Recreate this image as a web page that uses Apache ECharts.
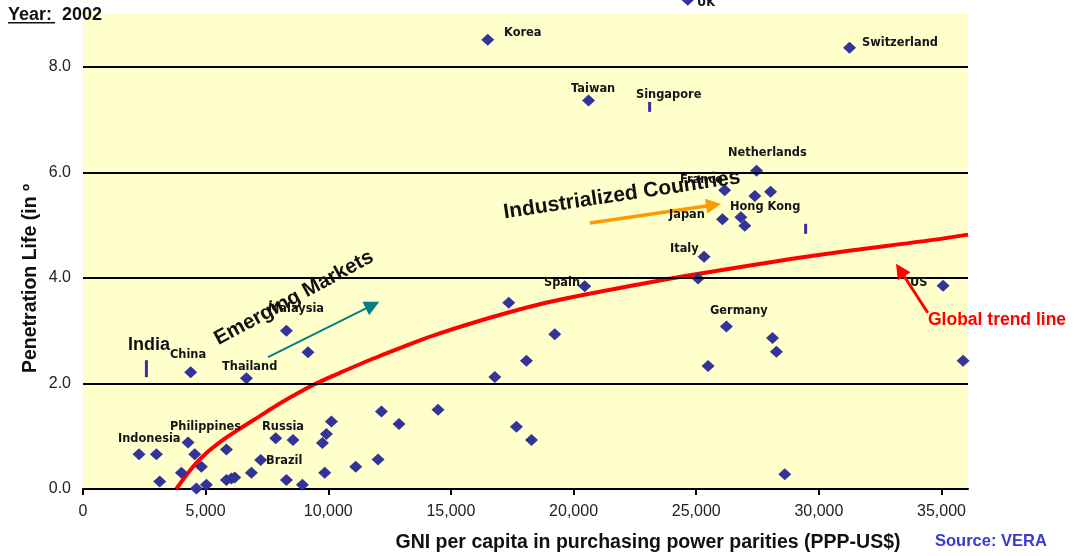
<!DOCTYPE html>
<html><head><meta charset="utf-8">
<script src="https://cdn.jsdelivr.net/npm/echarts@6/dist/echarts.min.js"></script>
<style>html,body{margin:0;padding:0;background:#fff}#c{width:1077px;height:556px}</style>
</head><body><div id="c"></div>
<script>
// ---- data ----
const countryNames = ['UK','Korea','Switzerland','Taiwan','Netherlands','France','','','Japan','','','Italy','','US','Germany','','','','','Spain','','','','','China','Thailand','Malaysia','','','','Indonesia','','','','','','','Philippines','','','','','Brazil','','Russia','','','','','','','','','','','','','',''];
const gniValues = [24655,16500,31250,20610,27460,26160,27390,28030,26070,26820,26980,25320,25075,35065,26230,28110,28270,25485,35880,20455,17357,19233,18078,16790,4391,6662,8293,9174,2284,2992,4283,4555,4827,4012,3127,4623,5031,5847,5847,6051,6186,6866,7245,7857,8562,8293,8945,9761,9924,10128,9855,11119,12029,12167,12884,14474,17671,18283,28610];
const lifeValues = [9.27,8.51,8.36,7.36,6.03,5.66,5.55,5.63,5.11,5.15,4.99,4.40,3.99,3.85,3.08,2.86,2.60,2.33,2.43,3.84,3.53,2.93,2.43,2.12,2.21,2.10,3.00,2.59,0.66,0.66,0.88,0.66,0.42,0.31,0.14,0.01,0.08,0.75,0.17,0.20,0.22,0.31,0.55,0.96,0.93,0.17,0.08,0.87,1.04,1.28,0.31,0.42,0.56,1.47,1.23,1.50,1.18,0.93,0.28];
const barNames = ['India','Singapore','Hong Kong'];
const barGni = [2585, 23100, 29460];
const barLife = [2.28, 7.24, 4.93];
const trendGni = [3800,4485,5031,5708,6389,7205,8020,9378,10466,12097,14543,18620,22697,24736,29764,34657,36080];
const trendLife = [0.0,0.42,0.68,0.93,1.14,1.38,1.62,1.97,2.20,2.52,2.95,3.50,3.88,4.05,4.42,4.72,4.82];
const xTicks = [0,5000,10000,15000,20000,25000,30000,35000];
const yTicks = [0,2,4,6,8];
// arrows (data coordinates): [fromGni, fromLife, toGni, toLife]
const emergingArrow = [7543, 2.497, 11804, 3.485];
const industrialArrow = [20660, 5.04, 25707, 5.38];
const trendArrow = [34440, 3.34, 33312, 4.15];

const SANS = '"Liberation Sans", Arial, sans-serif';
const LBL = '"DejaVu Sans", Verdana, sans-serif';

const chart = echarts.init(document.getElementById('c'), null, {renderer: 'canvas'});

function arrow(a, color, width) {
  return [{coord: [a[0], a[1]], lineStyle: {color: color, width: width, type: 'solid'}, itemStyle: {color: color}},
          {coord: [a[2], a[3]], itemStyle: {color: color}}];
}

const labelDefs = [
  ['UK', 697, 3], ['Korea', 504, 33], ['Switzerland', 862, 43], ['Taiwan', 571, 89], ['Singapore', 636, 95],
  ['Netherlands', 728, 153], ['France', 680, 180], ['Japan', 669, 215], ['Hong Kong', 730, 207], ['Italy', 670, 249],
  ['Spain', 544, 283], ['US', 910, 283], ['Germany', 710, 311], ['Malaysia', 268, 309], ['China', 170, 355],
  ['Thailand', 222, 367], ['Philippines', 170, 427], ['Indonesia', 118, 439], ['Russia', 262, 427], ['Brazil', 266, 461]
];

const graphics = labelDefs.map(d => ({
  type: 'text', x: d[1], y: d[2], z: 50,
  style: {text: d[0], font: 'bold 11.4px ' + LBL, fill: '#151515', align: 'left', verticalAlign: 'middle'}
}));
graphics.push(
  {type: 'text', x: 128, y: 345, z: 50, style: {text: 'India', font: 'bold 18px ' + SANS, fill: '#111', align: 'left', verticalAlign: 'middle'}},
  {type: 'text', x: 294, y: 298, rotation: 28.5 * Math.PI / 180, z: 60, style: {text: 'Emerging Markets', font: 'bold 20.5px ' + SANS, fill: '#111', align: 'center', verticalAlign: 'middle'}},
  {type: 'text', x: 622, y: 195, rotation: 8.5 * Math.PI / 180, z: 60, style: {text: 'Industrialized Countries', font: 'bold 21px ' + SANS, fill: '#111', align: 'center', verticalAlign: 'middle'}},
  {type: 'text', x: 928, y: 320, z: 60, style: {text: 'Global trend line', font: 'bold 17.5px ' + SANS, fill: '#FF0000', align: 'left', verticalAlign: 'middle'}},
  {type: 'text', x: 8, y: 15, z: 60, style: {text: 'Year:', font: 'bold 18px ' + SANS, fill: '#111', align: 'left', verticalAlign: 'middle'}},
  {type: 'rect', z: 60, shape: {x: 8, y: 22, width: 47, height: 1.6}, style: {fill: '#111'}},
  {type: 'text', x: 62, y: 15, z: 60, style: {text: '2002', font: 'bold 18px ' + SANS, fill: '#111', align: 'left', verticalAlign: 'middle'}},
  {type: 'text', x: 31, y: 373, rotation: Math.PI / 2, z: 60, style: {text: 'Penetration Life (in º', font: 'bold 19.5px ' + SANS, fill: '#111', align: 'left', verticalAlign: 'middle'}},
  {type: 'text', x: 648, y: 543, z: 60, style: {text: 'GNI per capita in purchasing power parities (PPP-US$)', font: 'bold 19.5px ' + SANS, fill: '#111', align: 'center', verticalAlign: 'middle'}},
  {type: 'text', x: 935, y: 541, z: 60, style: {text: 'Source: VERA', font: 'bold 16.5px ' + SANS, fill: '#3A3ACC', align: 'left', verticalAlign: 'middle'}}
);

chart.setOption({
  animation: false,
  backgroundColor: '#ffffff',
  grid: {left: 83, right: 109, top: 14, bottom: 67, show: true, backgroundColor: '#FFFFCC', borderWidth: 0},
  xAxis: {
    type: 'value', min: 0, max: 36080, interval: 5000,
    axisLine: {show: true, onZero: true, lineStyle: {color: '#000', width: 2}},
    axisTick: {show: true, length: 6, customValues: xTicks, lineStyle: {color: '#000', width: 2}},
    axisLabel: {customValues: xTicks, margin: 15, color: '#222', fontFamily: SANS, fontSize: 16,
      formatter: v => Number(v).toLocaleString('en-US')},
    splitLine: {show: false}
  },
  yAxis: {
    type: 'value', min: 0, max: 9, interval: 1,
    axisLine: {show: false}, axisTick: {show: false},
    axisLabel: {customValues: yTicks, margin: 12, color: '#222', fontFamily: SANS, fontSize: 16,
      formatter: v => Number(v).toFixed(1)},
    splitLine: {show: false}
  },
  graphic: graphics,
  series: [
    {
      type: 'scatter', data: [], z: 1, silent: true,
      markLine: {silent: true, symbol: 'none', label: {show: false}, animation: false,
        lineStyle: {color: '#000', width: 2, type: 'solid'},
        data: yTicks.filter(v => v > 0).map(v => ({yAxis: v}))}
    },
    {
      type: 'line', z: 2, smooth: 0.3, showSymbol: false, silent: true,
      data: trendGni.map((g, i) => [g, trendLife[i]]),
      lineStyle: {color: '#FF0000', width: 4}
    },
    {
      type: 'scatter', z: 3, clip: false, symbol: 'diamond', symbolSize: [13, 12],
      itemStyle: {color: '#333399', opacity: 1},
      data: gniValues.map((g, i) => ({name: countryNames[i], value: [g, lifeValues[i]]}))
    },
    {
      type: 'scatter', z: 3, clip: false, symbol: 'rect',
      symbolSize: (v, p) => p.dataIndex === 0 ? [3, 17] : [3, 10],
      itemStyle: {color: '#333399', opacity: 1},
      data: barGni.map((g, i) => ({name: barNames[i], value: [g, barLife[i]]}))
    },
    {
      type: 'scatter', data: [], z: 4, silent: true,
      markLine: {silent: true, symbol: ['none', 'triangle'], symbolSize: 15, label: {show: false}, animation: false,
        data: [arrow(emergingArrow, '#008080', 2), arrow(industrialArrow, '#FF9900', 3.5), arrow(trendArrow, '#FF0000', 3)]}
    }
  ]
});
</script></body></html>
